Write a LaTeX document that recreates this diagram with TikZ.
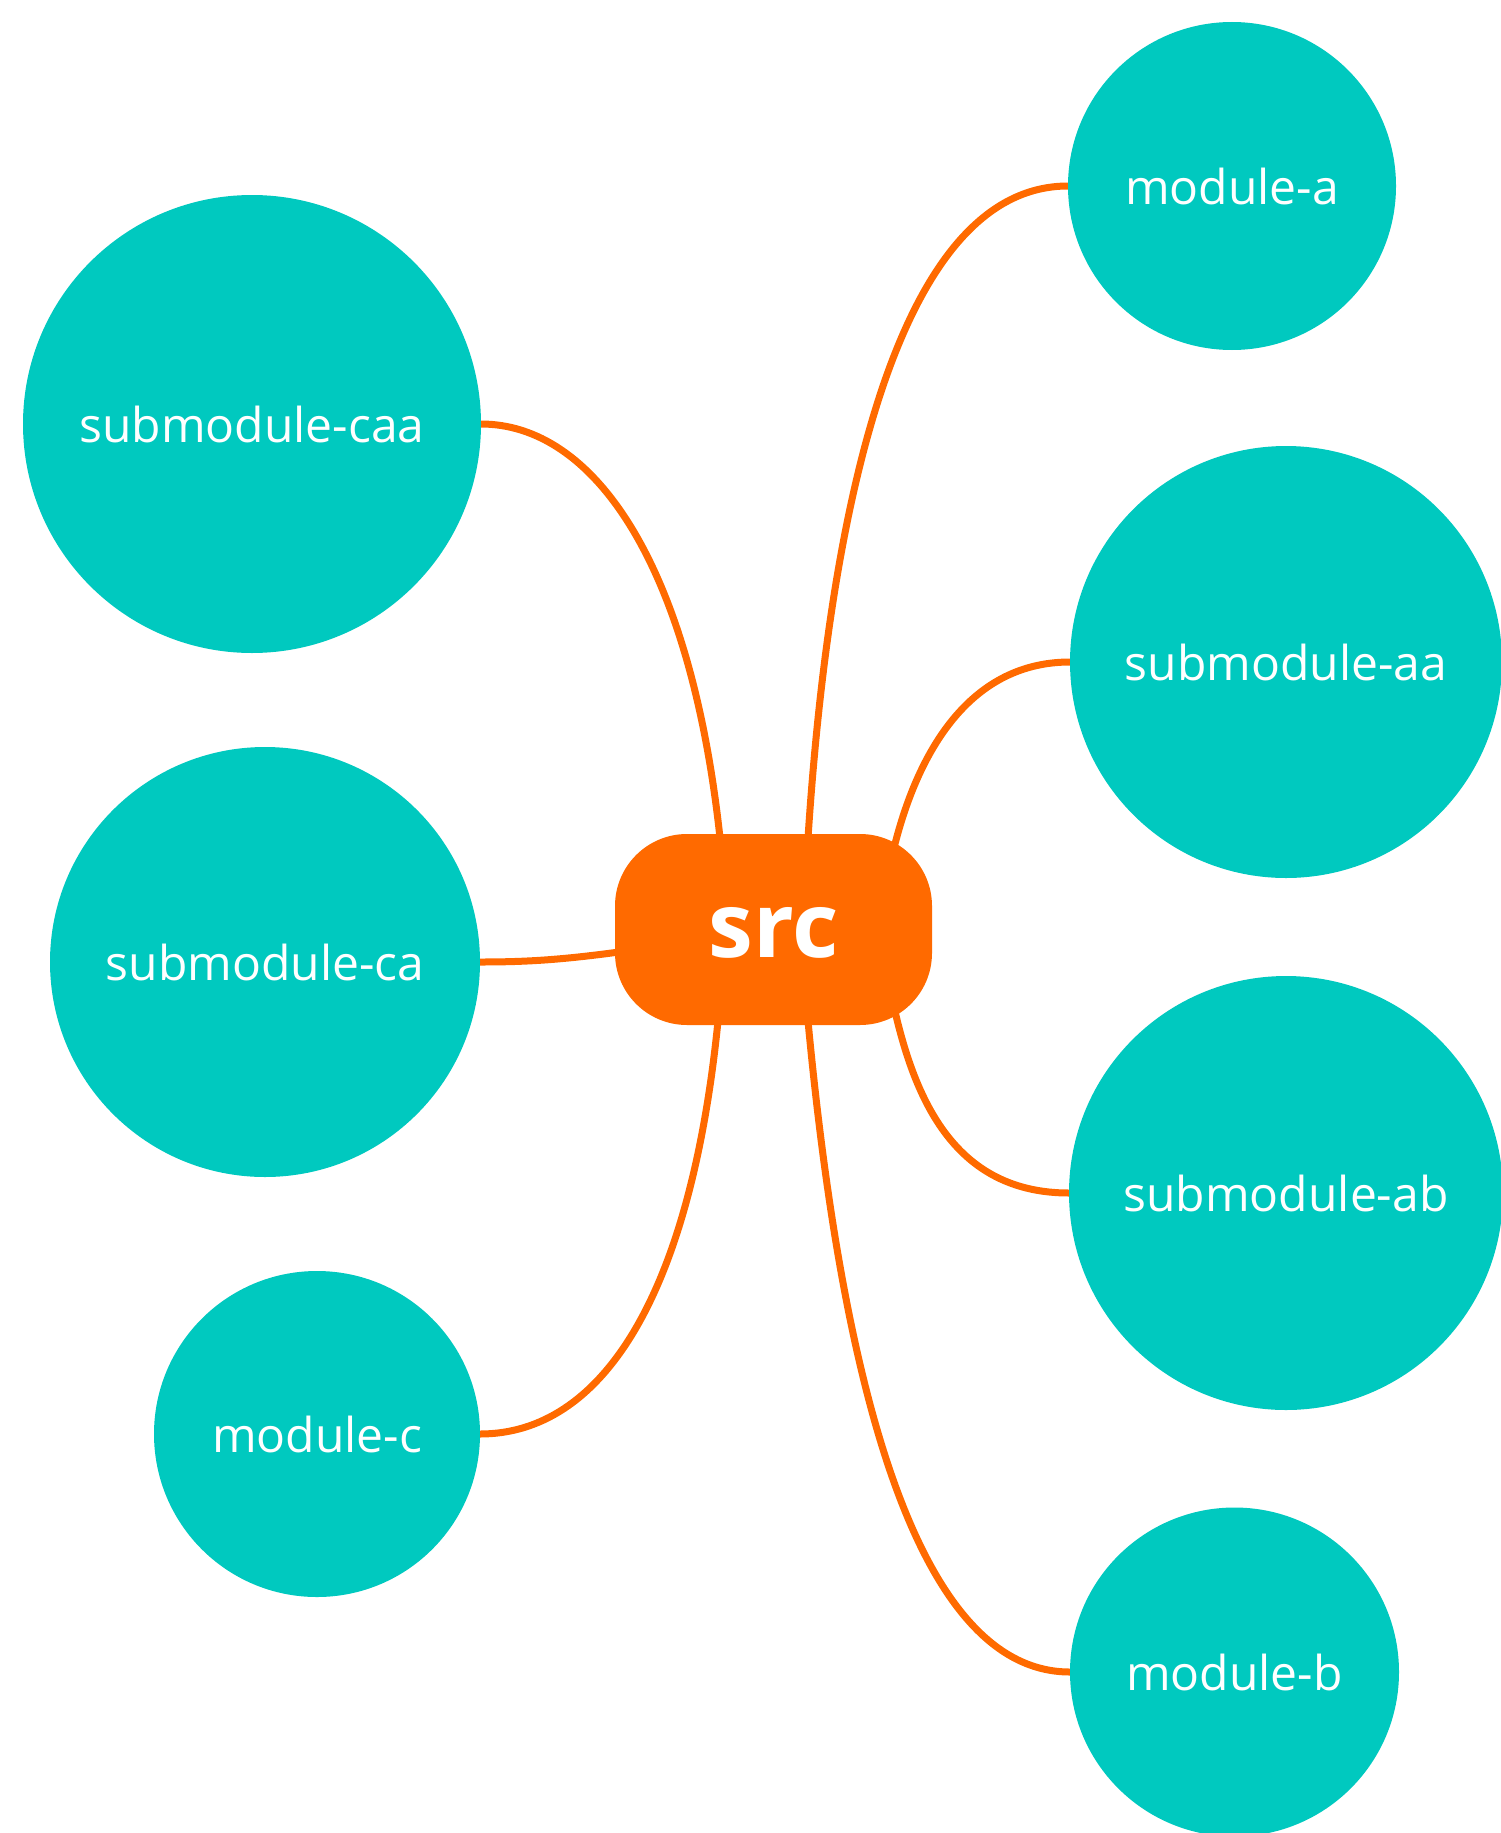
\documentclass[tikz,border=0pt]{standalone}
\usepackage{fontspec}
\setmainfont{Open Sans}
\usetikzlibrary{backgrounds}
\definecolor{tealc}{RGB}{0,201,191}
\definecolor{orngc}{RGB}{255,106,0}
\begin{document}
\begin{tikzpicture}[x=1pt,y=-1pt,
  modnode/.style={circle, fill=tealc, inner sep=0pt, outer sep=0pt, text=white,
    font=\fontsize{48}{58}\selectfont},
  rootnode/.style={fill=orngc, rounded corners=72pt, minimum width=317pt,
    minimum height=191pt, inner sep=0pt, outer sep=0pt, text=white,
    text height=56pt, text depth=0pt,
    font=\fontsize{90}{100}\selectfont\bfseries},
  link/.style={draw=orngc, line width=7pt}]
\useasboundingbox (0,0) rectangle (1500,1833);
\node[modnode, minimum size=328pt] (ma)  at (1232,186)  {module-a};
\node[modnode, minimum size=458pt] (caa) at (252,424)   {submodule-caa};
\node[modnode, minimum size=432pt] (aa)  at (1286,662)  {submodule-aa};
\node[modnode, minimum size=430pt] (ca)  at (265,962)   {submodule-ca};
\node[modnode, minimum size=434pt] (ab)  at (1286,1193) {submodule-ab};
\node[modnode, minimum size=326pt] (mc)  at (317,1434)  {module-c};
\node[modnode, minimum size=329pt] (mb)  at (1234.5,1672) {module-b};
\node[rootnode] (src) at (773.5,929.5) {src};
\begin{scope}[on background layer]
\draw[link] ([shift={(-53.5,-91.5)}]src.center) .. controls +(-30,-278) and +(111,0) .. (caa.east);
\draw[link] ([shift={(34.5,-91.5)}]src.center) .. controls +(22,-338) and +(-168,0) .. (ma.west);
\draw[link] ([shift={(119.5,-77.5)}]src.center) .. controls +(22,-92) and +(-105,0) .. (aa.west);
\draw[link] ([shift={(120.5,77.5)}]src.center) .. controls +(21,93) and +(-114,0) .. (ab.west);
\draw[link] ([shift={(34.5,91.5)}]src.center) .. controls +(32,339) and +(-160,0) .. (mb.west);
\draw[link] ([shift={(-55.5,91.5)}]src.center) .. controls +(-28,279) and +(120,0) .. (mc.east);
\draw[link] ([shift={(-154.5,22.5)}]src.center) .. controls +(-59,8) and +(45,0) .. (ca.east);
\end{scope}
\end{tikzpicture}
\end{document}
